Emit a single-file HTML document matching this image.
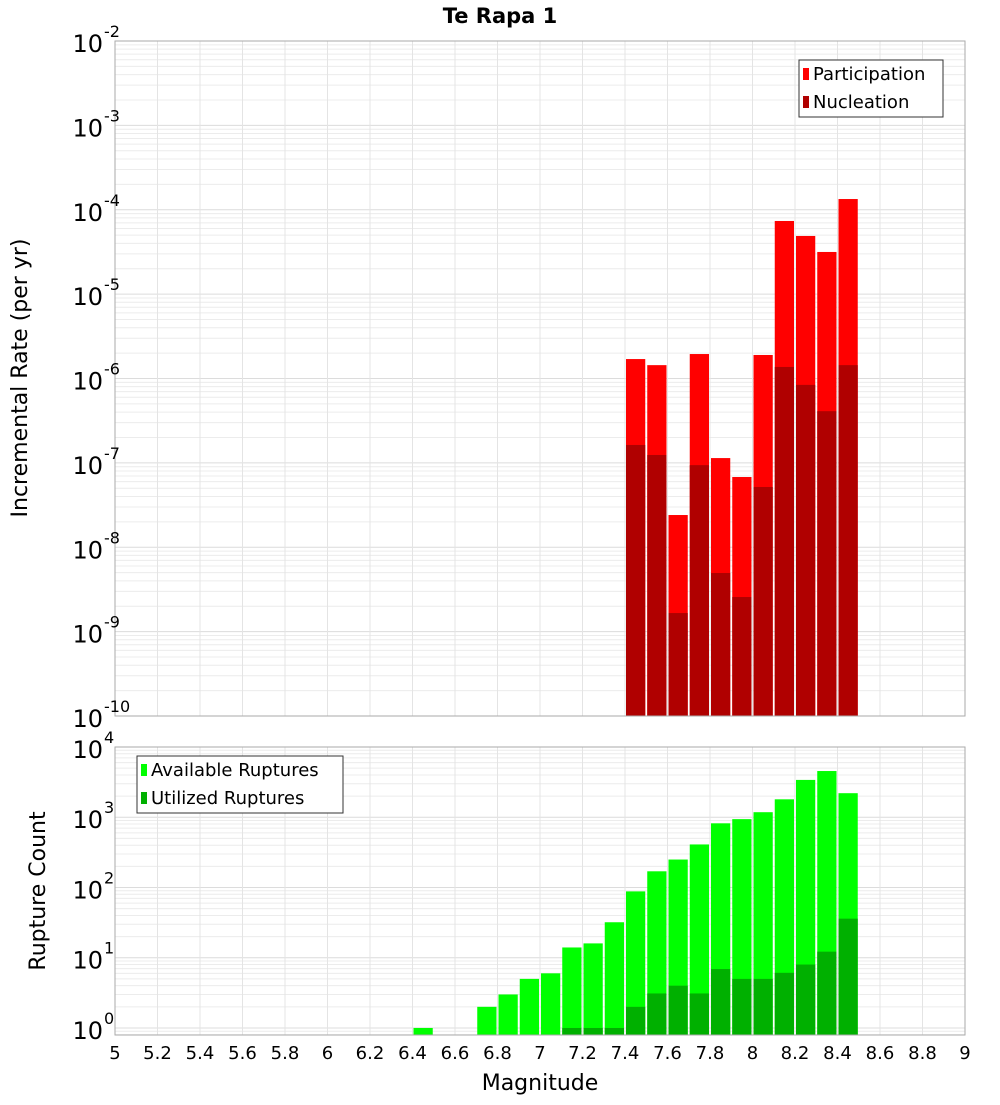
<!DOCTYPE html>
<html><head><meta charset="utf-8"><style>
body{margin:0;background:#fff;font-family:"Liberation Sans","DejaVu Sans",sans-serif;}
svg text{font-family:"DejaVu Sans","Liberation Sans",sans-serif;}
</style></head><body>
<svg id="c" width="1000" height="1100" xmlns="http://www.w3.org/2000/svg">
<text x="500" y="23" text-anchor="middle" font-size="21" font-weight="bold">Te Rapa 1</text>
<text transform="translate(27,378) rotate(-90)" text-anchor="middle" font-size="22">Incremental Rate (per yr)</text>
<text transform="translate(45,891) rotate(-90)" text-anchor="middle" font-size="22">Rupture Count</text>
<text x="540" y="1090" text-anchor="middle" font-size="22">Magnitude</text>
</svg>
<script>
const mags=[7.45,7.55,7.65,7.75,7.85,7.95,8.05,8.15,8.25,8.35,8.45];
const participation=[1.7e-6,1.44e-6,2.41e-8,1.95e-6,1.14e-7,6.8e-8,1.9e-6,7.36e-5,4.89e-5,3.16e-5,1.34e-4];
const nucleation=[1.63e-7,1.24e-7,1.66e-9,9.4e-8,4.95e-9,2.57e-9,5.18e-8,1.37e-6,8.4e-7,4.1e-7,1.44e-6];
const availMags=[6.45,6.75,6.85,6.95,7.05,7.15,7.25,7.35,7.45,7.55,7.65,7.75,7.85,7.95,8.05,8.15,8.25,8.35,8.45];
const available=[1,2,3,5,6,14,16,32,88,170,250,410,820,940,1180,1800,3400,4550,2200];
const utilMags=[7.15,7.25,7.35,7.45,7.55,7.65,7.75,7.85,7.95,8.05,8.15,8.25,8.35,8.45];
const utilized=[1,1,1,2,3.1,4,3.1,6.9,5,5,6.1,8,12.2,36];
const xTicks=["5","5.2","5.4","5.6","5.8","6","6.2","6.4","6.6","6.8","7","7.2","7.4","7.6","7.8","8","8.2","8.4","8.6","8.8","9"];
const topExps=[-2,-3,-4,-5,-6,-7,-8,-9,-10];
const botExps=[4,3,2,1,0];

const svg=document.getElementById('c');const NS="http://www.w3.org/2000/svg";
function mk(t,a,p){const e=document.createElementNS(NS,t);for(const k in a)e.setAttribute(k,a[k]);(p||svg).appendChild(e);return e;}
const X0=115,X1=965;
const xs=m=>X0+(m-5)/4*(X1-X0);
const T={top:41,bot:716,lmin:-10,lmax:-2};
const B={top:747,bot:1035,lmin:-0.1,lmax:4};
function ys(P,v){return P.bot-(Math.log10(v)-P.lmin)/(P.lmax-P.lmin)*(P.bot-P.top);}
function grid(P,name){
  const g=mk('g',{});
  
  
  for(let e=Math.floor(P.lmin);e<P.lmax;e++)for(let k=1;k<10;k++){
    const lv=e+Math.log10(k);if(lv<P.lmin||lv>P.lmax)continue;
    const y=ys(P,Math.pow(10,lv));
    mk('line',{x1:X0,x2:X1,y1:y,y2:y,stroke:k==1?'#dcdcdc':'#ececec','stroke-width':1},g);
  }
  xTicks.forEach(t=>{const x=xs(+t);mk('line',{x1:x,x2:x,y1:P.top,y2:P.bot,stroke:'#e4e4e4','stroke-width':1},g);});
}
function frame(P,name){const r=mk('rect',{x:X0,y:P.top,width:X1-X0,height:P.bot-P.top,fill:'none',stroke:'#aaa','stroke-width':1});
  
  }
function bars(P,ms,vals,color,name){
  const g=mk('g',{});
  
  
  ms.forEach((m,i)=>{const x=xs(m-0.05)+1,w=xs(m+0.05)-xs(m-0.05)-2;const y=ys(P,vals[i]);
    const r=mk('rect',{x:x,y:y,width:w,height:P.bot-y,fill:color},g);
    
    });
}
function yLabels(P,exps,name){
  exps.forEach(e=>{const y=ys(P,Math.pow(10,e));
    const t=mk('text',{x:103,y:y+11,'text-anchor':'end','font-size':24});
    
    
    t.textContent='10';
    const s=mk('text',{x:104,y:y-4,'font-size':16});
    
    
    s.textContent=String(e);});
}
function legend(x,y,w,items,name){
  const g=mk('g',{});
  
  
  mk('rect',{x:x,y:y,width:w,height:57,fill:'#fff',stroke:'#333','stroke-width':1},g);
  items.forEach((it,i)=>{mk('rect',{x:x+4,y:y+8+i*28,width:6,height:12,fill:it[1]},g);
    const t=mk('text',{x:x+14,y:y+20+i*28,'font-size':18},g);t.textContent=it[0];
    
    });
}
grid(T,'top');grid(B,'bottom');
bars(T,mags,participation,'#ff0000','participation');
bars(T,mags,nucleation,'#b00000','nucleation');
bars(B,availMags,available,'#00ff00','available-ruptures');
bars(B,utilMags,utilized,'#00b000','utilized-ruptures');
frame(T,'top');frame(B,'bottom');
yLabels(T,topExps,'top-y');yLabels(B,botExps,'bottom-y');
xTicks.forEach(t=>{const e=mk('text',{x:xs(+t),y:1059,'text-anchor':'middle','font-size':18});
  
  
  e.textContent=t;});
legend(799,60,144,[['Participation','#ff0000'],['Nucleation','#b00000']],'top-legend');
legend(137,756,206,[['Available Ruptures','#00ff00'],['Utilized Ruptures','#00b000']],'bottom-legend');
</script>
</body></html>
